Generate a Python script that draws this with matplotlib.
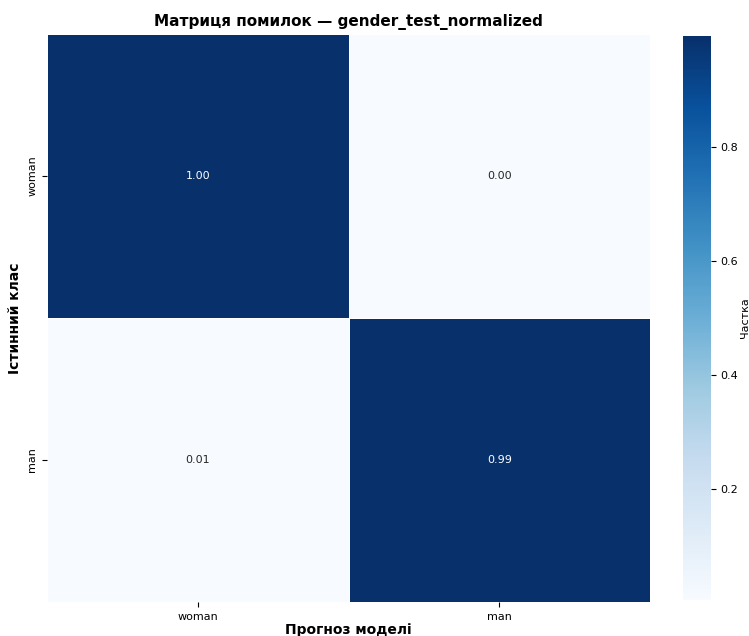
import matplotlib
matplotlib.use("Agg")
import matplotlib.pyplot as plt
import seaborn as sns
import numpy as np

# нормалізована матриця помилок
classes = ["woman", "man"]
row_woman = [0.996, 0.004]
row_man = [0.007, 0.993]
cm = np.array([row_woman, row_man])

fig = plt.figure(figsize=(7.49, 6.36), dpi=100)
ax = fig.add_axes([0.063, 0.0535, 0.805, 0.893])
cax = fig.add_axes([0.912, 0.0566, 0.037, 0.887])

sns.heatmap(cm, annot=True, fmt=".2f", cmap="Blues",
            xticklabels=classes, yticklabels=classes,
            linewidths=0.5, linecolor="white",
            ax=ax, cbar_ax=cax,
            annot_kws={"size": 8})

ax.set_title("Матриця помилок — gender_test_normalized", fontsize=11, fontweight="bold")
ax.set_xlabel("Прогноз моделі", fontsize=10, fontweight="bold", labelpad=1)
ax.set_ylabel("Істинний клас", fontsize=10, fontweight="bold")
ax.tick_params(labelsize=8)
plt.setp(ax.get_yticklabels(), rotation=90, va="center")
cax.tick_params(labelsize=8)
cax.set_ylabel("Частка", fontsize=8, labelpad=1)

fig.savefig("out.png", dpi=100)
